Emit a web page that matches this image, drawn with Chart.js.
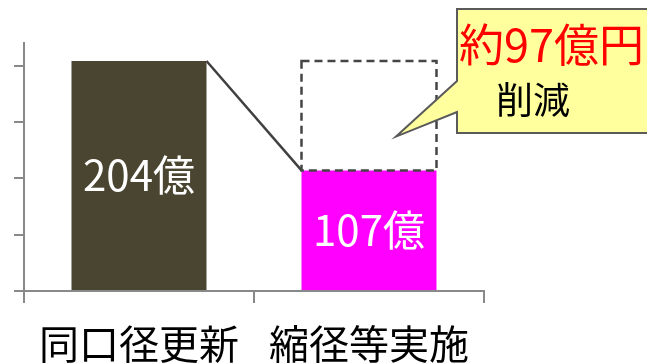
<!DOCTYPE html>
<html>
<head>
<meta charset="utf-8">
<script src="https://cdn.jsdelivr.net/npm/chart.js@4.4.1/dist/chart.umd.min.js"></script>
<style>
  html, body { margin: 0; padding: 0; background: #ffffff; }
  #wrap { width: 647px; height: 363px; }
</style>
</head>
<body>
<div id="wrap"><canvas id="c" width="647" height="363"></canvas></div>
<script>
// 更新費用の比較（億円）
const categories = ['同口径更新', '縮径等実施'];
const costs = [204, 107];
const barColors = ['#4a4530', '#ff00ff'];
const yTicks = [0, 50, 100, 150, 200];
const yMax = 220;
const unit = '億';

const JP = '"Noto Sans CJK JP", "Noto Sans", sans-serif';
const AXIS = '#898989';

// 差額の囲み線・接続線・バー内ラベル・吹き出し
const overlay = {
  id: 'overlay',
  afterDatasetsDraw(chart) {
    const ctx = chart.ctx;
    const y = chart.scales.y;
    const bars = chart.getDatasetMeta(0).data;
    const b0 = bars[0], b1 = bars[1];
    const half1 = b1.width / 2;
    const topBefore = y.getPixelForValue(costs[0]);
    const topAfter = y.getPixelForValue(costs[1]);

    ctx.save();
    // 接続線
    ctx.strokeStyle = '#404040';
    ctx.lineWidth = 2.5;
    ctx.beginPath();
    ctx.moveTo(b0.x + b0.width / 2, topBefore);
    ctx.lineTo(b1.x - half1, topAfter);
    ctx.stroke();

    // 削減分の破線枠
    ctx.setLineDash([8, 5]);
    ctx.strokeStyle = '#454545';
    ctx.lineWidth = 2.5;
    ctx.strokeRect(b1.x - half1, topBefore, b1.width, topAfter - topBefore);
    ctx.setLineDash([]);

    // バー内の金額
    ctx.fillStyle = '#ffffff';
    ctx.font = '42px ' + JP;
    ctx.textAlign = 'center';
    ctx.textBaseline = 'middle';
    bars.forEach((bar, i) => {
      const mid = (bar.y + bar.base) / 2;
      ctx.fillText(costs[i] + unit, bar.x, mid);
    });

    // 吹き出し
    const tipX = b1.x + b1.width * 0.2;
    const tipY = y.getPixelForValue(137);
    const bx = 457, by = 9, bw = 200, bh = 124;
    ctx.fillStyle = '#ffff9e';
    ctx.strokeStyle = '#5a5a5a';
    ctx.lineWidth = 2;
    ctx.beginPath();
    ctx.moveTo(bx, by);
    ctx.lineTo(bx + bw, by);
    ctx.lineTo(bx + bw, by + bh);
    ctx.lineTo(bx, by + bh);
    ctx.lineTo(bx, by + 103);
    ctx.lineTo(tipX, tipY);
    ctx.lineTo(bx, by + 72);
    ctx.closePath();
    ctx.fill();
    ctx.stroke();

    ctx.textAlign = 'left';
    ctx.fillStyle = '#ff0000';
    ctx.font = '45px ' + JP;
    ctx.fillText('約' + (costs[0] - costs[1]) + '億円', 459, 45);
    ctx.fillStyle = '#000000';
    ctx.font = '37px ' + JP;
    ctx.fillText('削減', 496, 100);
    ctx.restore();
  }
};

new Chart(document.getElementById('c'), {
  type: 'bar',
  data: {
    labels: categories,
    datasets: [{
      data: costs,
      backgroundColor: barColors,
      borderWidth: 0,
      barPercentage: 0.587,
      categoryPercentage: 1
    }]
  },
  options: {
    responsive: false,
    animation: false,
    layout: { padding: { top: 43, right: 163, left: 0, bottom: 0 } },
    plugins: { legend: { display: false }, tooltip: { enabled: false } },
    scales: {
      x: {
        offset: true,
        grid: { offset: true, drawOnChartArea: false, tickLength: 12, color: AXIS, lineWidth: 2 },
        border: { color: AXIS, width: 2 },
        ticks: { color: '#000000', font: { size: 40, family: JP }, padding: 17 },
        afterFit(s) { s.height = 72; }
      },
      y: {
        min: 0,
        max: yMax,
        ticks: { display: false, stepSize: 50 },
        afterBuildTicks(s) { s.ticks = yTicks.map(v => ({ value: v })); },
        grid: { drawOnChartArea: false, tickLength: 10, color: AXIS, lineWidth: 2 },
        border: { color: AXIS, width: 2 },
        afterFit(s) { s.width = 24; }
      }
    }
  },
  plugins: [overlay]
});
</script>
</body>
</html>
